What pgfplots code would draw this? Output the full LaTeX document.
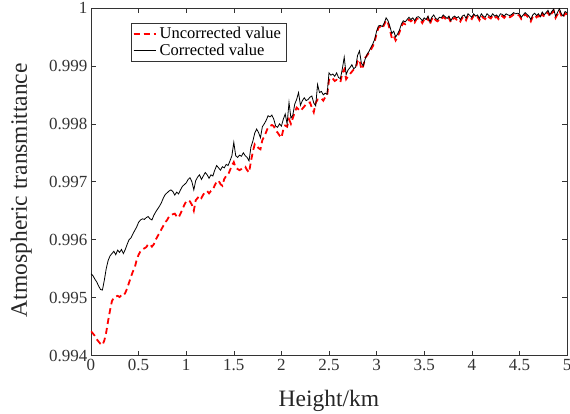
\documentclass[border=0pt]{standalone}
\usepackage{fontspec}
\setmainfont{Liberation Serif}
\usepackage{pgfplots}
\usepackage{pgfplotstable}
\pgfplotsset{compat=1.18}
\pgfplotstableread{
h unc cor
0.00 0.99442 0.99541
0.02 0.99438 0.99538
0.04 0.99434 0.99532
0.06 0.99428 0.99527
0.08 0.99424 0.99520
0.10 0.99420 0.99514
0.12 0.99418 0.99513
0.14 0.99426 0.99530
0.16 0.99440 0.99550
0.18 0.99460 0.99564
0.20 0.99478 0.99572
0.22 0.99494 0.99576
0.24 0.99500 0.99580
0.26 0.99502 0.99574
0.28 0.99503 0.99582
0.30 0.99501 0.99578
0.32 0.99504 0.99583
0.34 0.99503 0.99576
0.36 0.99508 0.99583
0.38 0.99516 0.99592
0.40 0.99526 0.99600
0.42 0.99536 0.99603
0.44 0.99545 0.99610
0.46 0.99552 0.99616
0.48 0.99565 0.99622
0.50 0.99574 0.99630
0.52 0.99580 0.99634
0.54 0.99583 0.99636
0.56 0.99585 0.99635
0.58 0.99587 0.99638
0.60 0.99592 0.99640
0.62 0.99592 0.99636
0.64 0.99588 0.99634
0.66 0.99592 0.99642
0.68 0.99600 0.99648
0.70 0.99606 0.99653
0.72 0.99612 0.99658
0.74 0.99618 0.99664
0.76 0.99624 0.99672
0.78 0.99630 0.99678
0.80 0.99634 0.99681
0.82 0.99640 0.99684
0.84 0.99642 0.99686
0.86 0.99644 0.99683
0.88 0.99645 0.99677
0.90 0.99640 0.99682
0.92 0.99638 0.99679
0.94 0.99645 0.99686
0.96 0.99652 0.99692
0.98 0.99660 0.99695
1.00 0.99666 0.99698
1.02 0.99668 0.99704
1.04 0.99666 0.99707
1.06 0.99660 0.99700
1.08 0.99650 0.99686
1.10 0.99668 0.99702
1.12 0.99672 0.99708
1.14 0.99676 0.99712
1.16 0.99672 0.99704
1.18 0.99678 0.99710
1.20 0.99682 0.99716
1.22 0.99684 0.99712
1.24 0.99680 0.99706
1.26 0.99684 0.99712
1.28 0.99686 0.99710
1.30 0.99694 0.99720
1.32 0.99700 0.99728
1.34 0.99702 0.99724
1.36 0.99696 0.99720
1.38 0.99693 0.99726
1.40 0.99705 0.99724
1.42 0.99710 0.99730
1.44 0.99712 0.99728
1.46 0.99720 0.99736
1.48 0.99728 0.99745
1.50 0.99734 0.99768
1.52 0.99724 0.99745
1.54 0.99722 0.99742
1.56 0.99720 0.99746
1.58 0.99722 0.99744
1.60 0.99725 0.99750
1.62 0.99726 0.99745
1.64 0.99720 0.99742
1.66 0.99716 0.99736
1.68 0.99735 0.99760
1.70 0.99752 0.99770
1.72 0.99765 0.99784
1.74 0.99762 0.99791
1.76 0.99758 0.99785
1.78 0.99756 0.99776
1.80 0.99772 0.99795
1.82 0.99778 0.99800
1.84 0.99786 0.99806
1.86 0.99794 0.99814
1.88 0.99796 0.99812
1.90 0.99798 0.99815
1.92 0.99796 0.99808
1.94 0.99788 0.99796
1.96 0.99785 0.99794
1.98 0.99780 0.99800
2.00 0.99776 0.99796
2.02 0.99790 0.99808
2.04 0.99797 0.99817
2.06 0.99795 0.99800
2.08 0.99808 0.99837
2.10 0.99800 0.99810
2.12 0.99810 0.99815
2.14 0.99820 0.99834
2.16 0.99828 0.99842
2.18 0.99825 0.99854
2.20 0.99822 0.99832
2.22 0.99826 0.99840
2.24 0.99830 0.99845
2.26 0.99834 0.99840
2.28 0.99836 0.99842
2.30 0.99837 0.99846
2.32 0.99828 0.99848
2.34 0.99820 0.99836
2.36 0.99836 0.99831
2.38 0.99842 0.99868
2.40 0.99842 0.99854
2.42 0.99844 0.99856
2.44 0.99840 0.99850
2.46 0.99846 0.99853
2.48 0.99848 0.99851
2.50 0.99876 0.99888
2.52 0.99880 0.99884
2.54 0.99878 0.99886
2.56 0.99874 0.99882
2.58 0.99876 0.99888
2.60 0.99874 0.99880
2.62 0.99872 0.99878
2.64 0.99888 0.99895
2.66 0.99894 0.99915
2.68 0.99877 0.99885
2.70 0.99882 0.99893
2.72 0.99886 0.99897
2.74 0.99890 0.99902
2.76 0.99894 0.99895
2.78 0.99896 0.99898
2.80 0.99908 0.99918
2.82 0.99911 0.99926
2.84 0.99894 0.99905
2.86 0.99900 0.99900
2.88 0.99914 0.99912
2.90 0.99918 0.99920
2.92 0.99923 0.99925
2.94 0.99928 0.99932
2.96 0.99934 0.99938
2.98 0.99942 0.99946
3.00 0.99956 0.99960
3.02 0.99966 0.99969
3.04 0.99968 0.99970
3.06 0.99965 0.99968
3.08 0.99971 0.99974
3.10 0.99979 0.99983
3.12 0.99974 0.99978
3.14 0.99962 0.99968
3.16 0.99948 0.99956
3.18 0.99952 0.99960
3.20 0.99944 0.99950
3.22 0.99950 0.99955
3.24 0.99958 0.99962
3.26 0.99968 0.99972
3.28 0.99974 0.99978
3.30 0.99972 0.99976
3.32 0.99976 0.99980
3.34 0.99980 0.99984
3.36 0.99977 0.99980
3.38 0.99980 0.99983
3.40 0.99975 0.99978
3.42 0.99981 0.99984
3.44 0.99982 0.99985
3.46 0.99979 0.99982
3.48 0.99974 0.99978
3.50 0.99980 0.99983
3.52 0.99977 0.99980
3.54 0.99983 0.99986
3.56 0.99972 0.99976
3.58 0.99981 0.99984
3.60 0.99985 0.99988
3.62 0.99979 0.99982
3.64 0.99977 0.99980
3.66 0.99981 0.99984
3.68 0.99980 0.99983
3.70 0.99985 0.99988
3.72 0.99982 0.99985
3.74 0.99978 0.99982
3.76 0.99983 0.99986
3.78 0.99975 0.99978
3.80 0.99981 0.99984
3.82 0.99983 0.99986
3.84 0.99980 0.99983
3.86 0.99982 0.99985
3.88 0.99977 0.99980
3.90 0.99983 0.99986
3.92 0.99985 0.99988
3.94 0.99979 0.99982
3.96 0.99987 0.99990
3.98 0.99984 0.99987
4.00 0.99981 0.99984
4.02 0.99987 0.99990
4.04 0.99983 0.99986
4.06 0.99985 0.99988
4.08 0.99979 0.99982
4.10 0.99987 0.99990
4.12 0.99983 0.99986
4.14 0.99981 0.99984
4.16 0.99987 0.99990
4.18 0.99984 0.99987
4.20 0.99982 0.99985
4.22 0.99987 0.99990
4.24 0.99983 0.99986
4.26 0.99985 0.99988
4.28 0.99981 0.99984
4.30 0.99987 0.99990
4.32 0.99986 0.99989
4.34 0.99983 0.99986
4.36 0.99987 0.99990
4.38 0.99985 0.99988
4.40 0.99984 0.99987
4.42 0.99986 0.99989
4.44 0.99989 0.99992
4.46 0.99987 0.99990
4.48 0.99988 0.99991
4.50 0.99987 0.99990
4.52 0.99981 0.99984
4.54 0.99985 0.99988
4.56 0.99989 0.99992
4.58 0.99986 0.99989
4.60 0.99983 0.99986
4.62 0.99977 0.99980
4.64 0.99985 0.99988
4.66 0.99988 0.99991
4.68 0.99984 0.99987
4.70 0.99987 0.99990
4.72 0.99982 0.99985
4.74 0.99990 0.99993
4.76 0.99985 0.99988
4.78 0.99989 0.99992
4.80 0.99993 0.99996
4.82 0.99985 0.99988
4.84 0.99991 0.99994
4.86 0.99995 0.99998
4.88 0.99983 0.99986
4.90 0.99989 0.99992
4.92 0.99996 0.99999
4.94 0.99987 0.99990
4.96 0.99983 0.99986
4.98 0.99991 0.99994
5.00 0.99989 0.99992
}\datatable
\begin{document}
\begin{tikzpicture}
\path[use as bounding box] (-91pt,-57.5pt) rectangle (479pt,355.5pt);
\begin{axis}[
  at={(0,0)}, anchor=south west,
  scale only axis,
  width=476pt, height=347.5pt,
  xmin=0, xmax=5, ymin=0.994, ymax=1,
  xtick={0,0.5,...,5},
  ytick={0.994,0.995,0.996,0.997,0.998,0.999,1},
  yticklabels={0.994,0.995,0.996,0.997,0.998,0.999,1},
  xticklabels={0,0.5,1,1.5,2,2.5,3,3.5,4,4.5,5},
  tick align=inside,
  major tick length=5pt,
  tick style={black!80, line width=0.6pt},
  axis line style={black!80, line width=0.7pt},
  tick label style={font=\fontsize{17}{17}\selectfont, text=black!80},
  every axis x label/.style={at={(axis description cs:0.5,0)}, anchor=base, yshift=-50.5pt},
  every axis y label/.style={at={(axis description cs:0,0.476)}, rotate=90, anchor=base, yshift=64pt},
  label style={font=\fontsize{23.5}{23.5}\selectfont, text=black!85},
  xlabel={Height/km},
  ylabel={Atmospheric transmittance},
  legend style={at={(0.083,0.958)}, anchor=north west, font=\fontsize{16.5}{16.5}\selectfont,
    draw=black!80, line width=0.6pt, inner xsep=2pt, inner ysep=3pt, row sep=0.5pt,
    cells={anchor=west}, nodes={inner xsep=3pt, inner ysep=1.5pt}},
  legend image code/.code={\draw[#1] (0pt,0pt) -- (16pt,0pt); \path (0pt,0pt) -- (22pt,0pt);},
  clip=true,
]
\addplot[red, line width=1.8pt, dash pattern=on 6pt off 4pt] table[x=h, y=unc] {\datatable};
\addlegendentry{Uncorrected value}
\addplot[black, line width=0.8pt] table[x=h, y=cor] {\datatable};
\addlegendentry{Corrected value}
\end{axis}
\end{tikzpicture}
\end{document}
